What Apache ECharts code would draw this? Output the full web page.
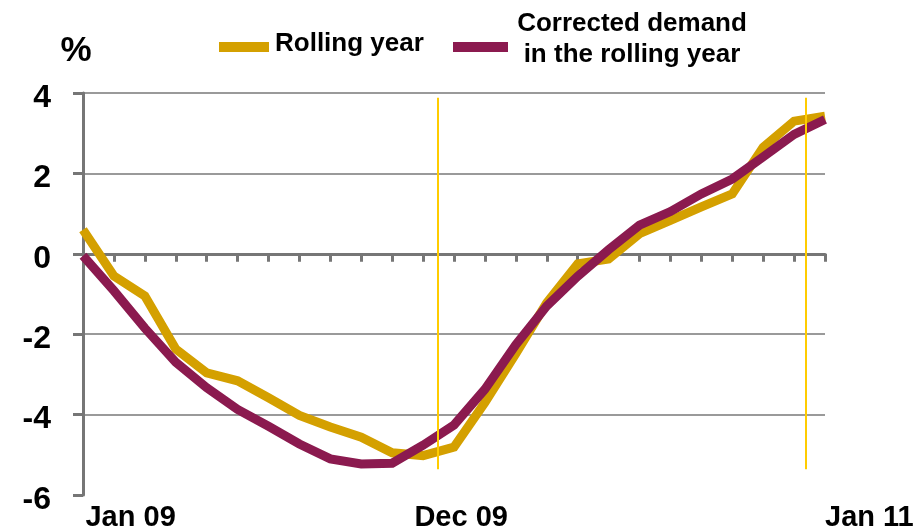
<!DOCTYPE html>
<html>
<head>
<meta charset="utf-8">
<script src="https://cdn.jsdelivr.net/npm/echarts@6/dist/echarts.min.js"></script>
<style>
  html, body { margin: 0; padding: 0; background: #ffffff; }
  #chart { width: 921px; height: 532px; }
</style>
</head>
<body>
<div id="chart"></div>
<script>
// Monthly observations, January 2009 to January 2011 (% change)
const months = [
  'Jan 09', 'Feb 09', 'Mar 09', 'Apr 09', 'May 09', 'Jun 09', 'Jul 09', 'Aug 09',
  'Sep 09', 'Oct 09', 'Nov 09', 'Dec 09', 'Jan 10', 'Feb 10', 'Mar 10', 'Apr 10',
  'May 10', 'Jun 10', 'Jul 10', 'Aug 10', 'Sep 10', 'Oct 10', 'Nov 10', 'Dec 10', 'Jan 11'
];

const rollingYear = [
  0.60, -0.55, -1.05, -2.37, -2.96, -3.16, -3.58, -4.02, -4.31, -4.56,
  -4.95, -5.02, -4.81, -3.70, -2.48, -1.22, -0.25, -0.13, 0.50, 0.83,
  1.17, 1.49, 2.65, 3.30, 3.42
];

const correctedDemand = [
  -0.05, -0.92, -1.85, -2.70, -3.33, -3.87, -4.29, -4.73, -5.10, -5.23,
  -5.21, -4.76, -4.26, -3.37, -2.26, -1.30, -0.56, 0.10, 0.71, 1.05,
  1.49, 1.86, 2.41, 2.97, 3.34
];

// Month positions that carry a label on the time axis
const labelledMonths = [0.08, 10.72, 24];

const seriesNames = ['Rolling year', 'Corrected demand\nin the rolling year'];

const FONT = '"Liberation Sans", Arial, Helvetica, sans-serif';
const AXIS_GREY = '#767676';
const GRID_GREY = '#9a9a9a';
const GOLD = '#D4A000';
const PLUM = '#8B1A4F';
const MARKER = '#FFCC00';

const toPairs = arr => arr.map((v, i) => [i, v]);

const chart = echarts.init(document.getElementById('chart'), null, { renderer: 'canvas' });

chart.setOption({
  animation: false,
  backgroundColor: '#ffffff',
  grid: { left: 83, top: 93, width: 742, height: 404.5, containLabel: false },
  legend: [
    {
      data: [seriesNames[0]],
      left: 219, top: 42, padding: 0,
      icon: 'rect', itemWidth: 50, itemHeight: 10,
      selectedMode: false,
      formatter: () => '',
      textStyle: { fontSize: 6 }
    },
    {
      data: [seriesNames[1]],
      left: 453, top: 42, padding: 0,
      icon: 'rect', itemWidth: 55, itemHeight: 10,
      selectedMode: false,
      formatter: () => '',
      textStyle: { fontSize: 6 }
    }
  ],
  graphic: [
    {
      type: 'text', x: 275, y: 44, silent: true,
      style: {
        text: seriesNames[0],
        font: 'bold 26px ' + FONT, fill: '#000',
        textAlign: 'left', textVerticalAlign: 'middle'
      }
    },
    {
      type: 'text', x: 632, y: 39.5, silent: true,
      style: {
        text: seriesNames[1],
        font: 'bold 26px ' + FONT, fill: '#000', lineHeight: 31,
        textAlign: 'center', textVerticalAlign: 'middle'
      }
    }
  ],
  xAxis: [
    {
      // time labels along the bottom edge
      type: 'value', min: 0, max: 24, interval: 1,
      position: 'bottom',
      axisLine: { show: false, onZero: false },
      axisTick: { show: false },
      splitLine: { show: false },
      axisLabel: {
        customValues: labelledMonths,
        formatter: v => months[Math.round(v)],
        align: 'left',
        margin: 8,
        fontFamily: FONT, fontSize: 29, fontWeight: 'bold', color: '#000'
      }
    },
    {
      // month ticks along the zero line
      type: 'value', min: 0, max: 24, interval: 1,
      position: 'bottom',
      axisLine: { show: true, onZero: true, onZeroAxisIndex: 0, lineStyle: { color: AXIS_GREY, width: 3 } },
      axisTick: { show: true, length: 8, lineStyle: { color: AXIS_GREY, width: 3 } },
      axisLabel: { show: false },
      splitLine: { show: false }
    }
  ],
  yAxis: {
    type: 'value', min: -6, max: 4, interval: 2,
    name: '%',
    nameLocation: 'end',
    nameGap: 24,
    nameTextStyle: { fontFamily: FONT, fontSize: 35, fontWeight: 'bold', color: '#000', padding: [0, 14, 0, 0] },
    axisLine: { show: true, onZero: false, lineStyle: { color: AXIS_GREY, width: 3 } },
    axisTick: { show: true, length: 10, lineStyle: { color: AXIS_GREY, width: 3 } },
    axisLabel: {
      margin: 32,
      verticalAlign: 'top',
      lineHeight: 10,
      fontFamily: FONT, fontSize: 32, fontWeight: 'bold', color: '#000'
    },
    splitLine: {
      show: true,
      lineStyle: { color: ['transparent', GRID_GREY, GRID_GREY, GRID_GREY, GRID_GREY, GRID_GREY], width: 2 }
    }
  },
  series: [
    {
      name: seriesNames[0],
      type: 'line',
      data: toPairs(rollingYear),
      showSymbol: false,
      symbol: 'none',
      color: GOLD,
      lineStyle: { color: GOLD, width: 9, join: 'miter' },
      z: 3
    },
    {
      name: seriesNames[1],
      type: 'line',
      data: toPairs(correctedDemand),
      showSymbol: false,
      symbol: 'none',
      color: PLUM,
      lineStyle: { color: PLUM, width: 9, join: 'miter' },
      z: 4,
      markLine: {
        silent: true,
        symbol: 'none',
        label: { show: false },
        lineStyle: { color: MARKER, width: 2, type: 'solid' },
        data: [
          [{ coord: [11.48, 3.88] }, { coord: [11.48, -5.36] }],
          [{ coord: [23.38, 3.88] }, { coord: [23.38, -5.36] }]
        ]
      }
    }
  ]
});
</script>
</body>
</html>
